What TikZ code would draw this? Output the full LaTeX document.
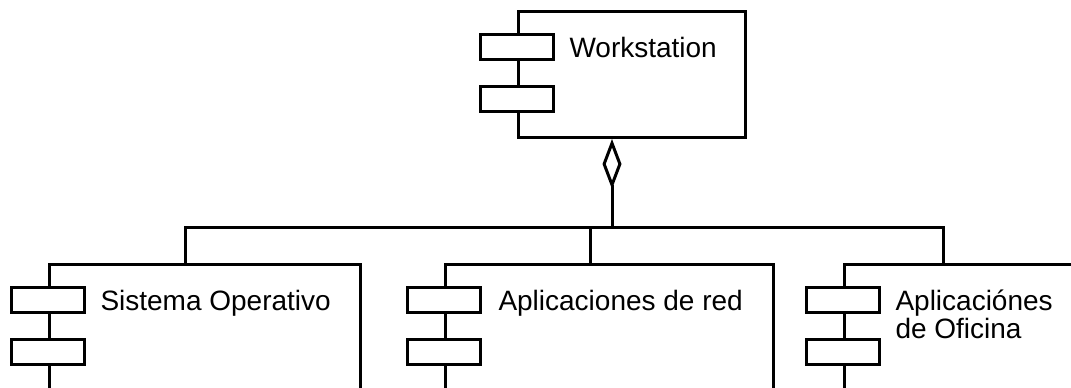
\documentclass[tikz,border=0pt]{standalone}
\usepackage{fontspec}
\setmainfont{Liberation Sans}
\usetikzlibrary{arrows.meta,calc}

\tikzset{
  % component body: width and height given in pt
  compbox/.style 2 args={draw, rectangle, anchor=north west, inner sep=0pt,
    minimum width=#1, minimum height=#2},
  % the two small port rectangles on the left edge of a component
  port/.style={draw, fill=white, rectangle, inner sep=0pt,
    minimum width=54.75pt, minimum height=18.75pt},
  lbl/.style={anchor=base west, inner sep=0pt, align=left,
    font=\fontsize{21pt}{21pt}\selectfont},
  aggr/.style={-{Diamond[open, length=37.5pt, width=14.25pt]}},
}

\begin{document}
\begin{tikzpicture}[x=0.75pt, y=-0.75pt, line width=2.25pt, line join=miter]
\useasboundingbox (0,0) rectangle (1071,387);
\clip (0,0) rectangle (1071,387);

% components
\node[compbox={170.25pt}{94.5pt}] (ws) at (517,10) {};
\node[compbox={233.25pt}{150pt}]  (so) at (48,263) {};
\node[compbox={246pt}{150pt}]     (red) at (444,263) {};
\node[compbox={247.5pt}{150pt}]   (ofi) at (843,263) {};

% ports
\foreach \c in {ws,so,red,ofi} {
  \node[port] (\c-p1) at ($(\c.north west)+(0,37)$) {};
  \node[port] (\c-p2) at ($(\c.north west)+(0,89)$) {};
}

% names (a two-line name sits on the baseline of its last line)
\node[lbl] (ws-t)  at ($(ws.north west)+(51,47)$)  {Workstation};
\node[lbl] (so-t)  at ($(so.north west)+(51,47)$)  {Sistema Operativo};
\node[lbl] (red-t) at ($(red.north west)+(53,47)$) {Aplicaciones de red};
\node[lbl] (ofi-t) at ($(ofi.north west)+(51,75)$) {Aplicaciónes\\de Oficina};

% aggregation connectors
\coordinate (hub) at (612,227);
\coordinate (j1) at (185,227);
\coordinate (j2) at (590,227);
\coordinate (j3) at (943,227);
\draw[aggr] (hub) -- (hub |- ws.south);
\draw (j1 |- so.north) -- (j1) -- (j3) -- (j3 |- ofi.north);
\draw (j2) -- (j2 |- red.north);
\end{tikzpicture}
\end{document}
